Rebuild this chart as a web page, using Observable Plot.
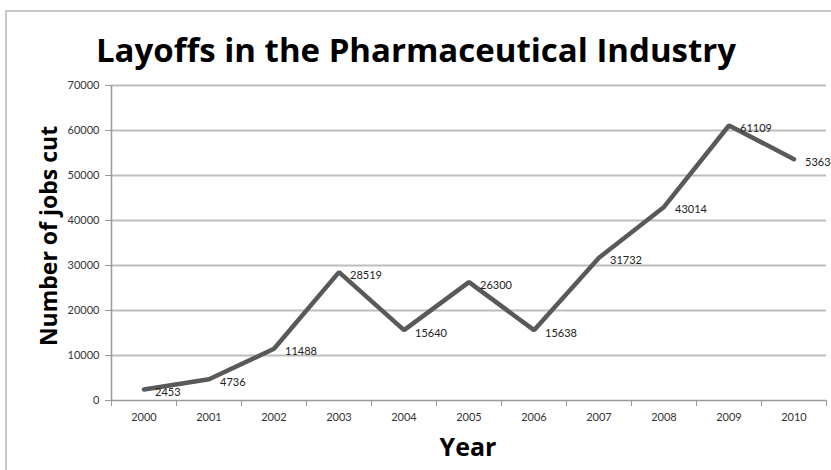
<!DOCTYPE html>
<html>
<head>
<meta charset="utf-8">
<script src="https://cdn.jsdelivr.net/npm/d3@7"></script>
<script src="https://cdn.jsdelivr.net/npm/@observablehq/plot@0.6"></script>
<style>
  html, body { margin: 0; padding: 0; background: #fff; }
  body { width: 831px; height: 470px; overflow: hidden; position: relative; font-family: Lato, "Open Sans", sans-serif; }
  #frame { position: absolute; left: 5px; top: 10px; width: 900px; height: 600px; border-left: 2px solid #c8c8c8; border-top: 2px solid #c8c8c8; }
  .lbl { position: absolute; white-space: nowrap; font-weight: bold; color: #000; font-family: "Open Sans", Lato, sans-serif; line-height: 1; }
  #title { left: 416px; top: 49px; transform: translate(-50%, -50%); font-size: 33px; }
  #ylabel { left: 48px; top: 236px; transform: translate(-50%, -50%) rotate(-90deg); font-size: 23px; }
  #xlabel { left: 468px; top: 446px; transform: translate(-50%, -50%); font-size: 25px; }
  #chart { position: absolute; left: 0; top: 0; }
</style>
</head>
<body>
<div id="frame"></div>
<div id="chart"></div>
<div id="title" class="lbl">Layoffs in the Pharmaceutical Industry</div>
<div id="ylabel" class="lbl">Number of jobs cut</div>
<div id="xlabel" class="lbl">Year</div>
<script>
const years = [2000, 2001, 2002, 2003, 2004, 2005, 2006, 2007, 2008, 2009, 2010];
const jobsCut = [2453, 4736, 11488, 28519, 15640, 26300, 15638, 31732, 43014, 61109, 53634];
const yTicks = [0, 10000, 20000, 30000, 40000, 50000, 60000, 70000];

const data = years.map((y, i) => ({year: y, value: jobsCut[i]}));
const boundaries = [...years.map(y => y - 0.5), years[years.length - 1] + 0.5];

const chart = Plot.plot({
  width: 831,
  height: 470,
  marginLeft: 111,
  marginRight: 5,
  marginTop: 85,
  marginBottom: 70,
  style: {fontFamily: "Lato, 'Open Sans', sans-serif", fontSize: "11px", color: "#333", background: "transparent", overflow: "visible"},
  x: {type: "linear", domain: [boundaries[0], boundaries[boundaries.length - 1]]},
  y: {domain: [0, 70000]},
  marks: [
    Plot.ruleY(yTicks.filter(t => t > 0), {stroke: "#bdbdbd", strokeWidth: 2, strokeOpacity: 1}),
    Plot.axisY({ticks: yTicks, tickSize: 6, tickPadding: 6, tickFormat: d => String(d), label: null, stroke: "#999", fill: "#333"}),
    Plot.axisX({ticks: boundaries, tickSize: 6, tickFormat: () => "", label: null, stroke: "#999"}),
    Plot.axisX({ticks: years, tickSize: 0, tickPadding: 13, tickFormat: d => String(d), label: null, fill: "#333"}),
    Plot.ruleX([boundaries[0]], {stroke: "#999", strokeWidth: 1.5}),
    Plot.ruleY([0], {stroke: "#999", strokeWidth: 1.5}),
    Plot.line(data, {x: "year", y: "value", stroke: "#595959", strokeWidth: 4.5, strokeLinejoin: "miter", strokeLinecap: "round"}),
    Plot.text(data, {x: "year", y: "value", text: d => String(d.value), textAnchor: "start", dx: 11, dy: 3, fill: "#222", fontSize: 11})
  ]
});
document.getElementById("chart").appendChild(chart);
</script>
</body>
</html>
